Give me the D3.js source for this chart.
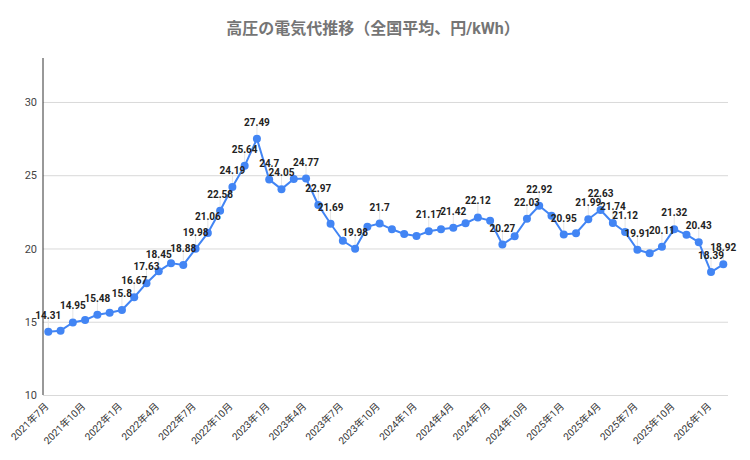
<!DOCTYPE html>
<html>
<head>
<meta charset="utf-8">
<script src="https://cdn.jsdelivr.net/npm/d3@7"></script>
<style>
  body { margin: 0; background: #fff; }
  text { font-family: Roboto, 'Noto Sans CJK JP', sans-serif; }
</style>
</head>
<body>
<div id="vis"></div>
<script>
const WIDTH = 750
const HEIGHT = 460

const months = [
  '2021年7月', '2021年8月', '2021年9月', '2021年10月', '2021年11月', '2021年12月',
  '2022年1月', '2022年2月', '2022年3月', '2022年4月', '2022年5月', '2022年6月',
  '2022年7月', '2022年8月', '2022年9月', '2022年10月', '2022年11月', '2022年12月',
  '2023年1月', '2023年2月', '2023年3月', '2023年4月', '2023年5月', '2023年6月',
  '2023年7月', '2023年8月', '2023年9月', '2023年10月', '2023年11月', '2023年12月',
  '2024年1月', '2024年2月', '2024年3月', '2024年4月', '2024年5月', '2024年6月',
  '2024年7月', '2024年8月', '2024年9月', '2024年10月', '2024年11月', '2024年12月',
  '2025年1月', '2025年2月', '2025年3月', '2025年4月', '2025年5月', '2025年6月',
  '2025年7月', '2025年8月', '2025年9月', '2025年10月', '2025年11月', '2025年12月',
  '2026年1月', '2026年2月'
]

// 円/kWh
const prices = [
  14.31, 14.39, 14.95, 15.12, 15.48, 15.62, 15.8, 16.67, 17.63, 18.45,
  19.0, 18.88, 19.98, 21.06, 22.58, 24.19, 25.64, 27.49, 24.7, 24.05,
  24.74, 24.77, 22.97, 21.69, 20.53, 19.98, 21.49, 21.7, 21.31, 20.99,
  20.85, 21.17, 21.31, 21.42, 21.72, 22.12, 21.9, 20.27, 20.83, 22.03,
  22.92, 22.23, 20.95, 21.04, 21.99, 22.63, 21.74, 21.12, 19.91, 19.67,
  20.11, 21.32, 20.94, 20.43, 18.39, 18.92
]

// which points carry a data label (index into months)
const labeled = [0, 2, 4, 6, 7, 8, 9, 11, 12, 13, 14, 15, 16, 17, 18, 19, 21, 22, 23, 25,
  27, 31, 33, 35, 37, 39, 40, 42, 44, 45, 46, 47, 48, 50, 51, 53, 54, 55]

const xTickLabels = [
  '2021年7月', '2021年10月', '2022年1月', '2022年4月', '2022年7月', '2022年10月',
  '2023年1月', '2023年4月', '2023年7月', '2023年10月', '2024年1月', '2024年4月',
  '2024年7月', '2024年10月', '2025年1月', '2025年4月', '2025年7月', '2025年10月', '2026年1月'
]
const yTicks = [10, 15, 20, 25, 30]

const title = '高圧の電気代推移（全国平均、円/kWh）'

const data = months.map((m, i) => ({ month: m, value: prices[i], i: i }))

const svg = d3.select('#vis').append('svg')
  .attr('width', WIDTH)
  .attr('height', HEIGHT)

svg.append('rect').attr('width', WIDTH).attr('height', HEIGHT).attr('fill', '#fff')

const plotLeft = 43, plotRight = 728

const x = d3.scalePoint()
  .domain(months)
  .range([48.3, 723.3])

const y = d3.scaleLinear()
  .domain([10, 33])
  .range([395, 58])

// title
svg.append('text')
  .attr('x', 373)
  .attr('y', 34)
  .attr('text-anchor', 'middle')
  .attr('font-size', '16px')
  .attr('font-weight', 700)
  .attr('fill', '#757575')
  .text(title)

// gridlines + y labels
const yAxis = d3.axisLeft(y)
  .tickValues(yTicks)
  .tickSize(-(plotRight - plotLeft))
  .tickPadding(6)

svg.append('g')
  .attr('class', 'y-axis')
  .attr('transform', `translate(${plotLeft},0)`)
  .call(yAxis)
  .call(g => g.select('.domain').remove())
  .call(g => g.selectAll('.tick line').attr('stroke', '#d9d9d9').attr('stroke-width', 1))
  .call(g => g.selectAll('.tick text')
    .attr('font-size', '11px')
    .attr('fill', '#444')
    .attr('font-family', 'Roboto, sans-serif'))

// left axis line
svg.append('line')
  .attr('x1', plotLeft).attr('x2', plotLeft)
  .attr('y1', y.range()[1]).attr('y2', y(10))
  .attr('stroke', '#333')
  .attr('stroke-width', 1)

// x labels, rotated
svg.append('g')
  .attr('class', 'x-labels')
  .selectAll('text')
  .data(xTickLabels)
  .enter()
  .append('text')
  .attr('transform', d => `translate(${x(d) + 1},${y(10) + 12}) rotate(-45)`)
  .attr('text-anchor', 'end')
  .attr('font-size', '10px')
  .attr('fill', '#333')
  .text(d => d)

// leader lines under labels
const labelData = data.filter(d => labeled.includes(d.i))

svg.append('g')
  .selectAll('line')
  .data(labelData)
  .enter()
  .append('line')
  .attr('x1', d => x(d.month)).attr('x2', d => x(d.month))
  .attr('y1', d => y(d.value) - 4)
  .attr('y2', d => y(d.value) - 14)
  .attr('stroke', '#e6e6e6')
  .attr('stroke-width', 1)

// line
const line = d3.line()
  .x(d => x(d.month))
  .y(d => y(d.value))

svg.append('path')
  .datum(data)
  .attr('fill', 'none')
  .attr('stroke', '#4285f4')
  .attr('stroke-width', 2)
  .attr('stroke-linejoin', 'round')
  .attr('d', line)

svg.append('g')
  .selectAll('circle')
  .data(data)
  .enter()
  .append('circle')
  .attr('cx', d => x(d.month))
  .attr('cy', d => y(d.value))
  .attr('r', 4)
  .attr('fill', '#4285f4')

// data labels
svg.append('g')
  .selectAll('text')
  .data(labelData)
  .enter()
  .append('text')
  .attr('x', d => x(d.month))
  .attr('y', d => y(d.value) - 13)
  .attr('text-anchor', 'middle')
  .attr('font-size', '10px')
  .attr('font-weight', 700)
  .attr('fill', '#222')
  .attr('font-family', 'Roboto, sans-serif')
  .text(d => String(d.value))
</script>
</body>
</html>
